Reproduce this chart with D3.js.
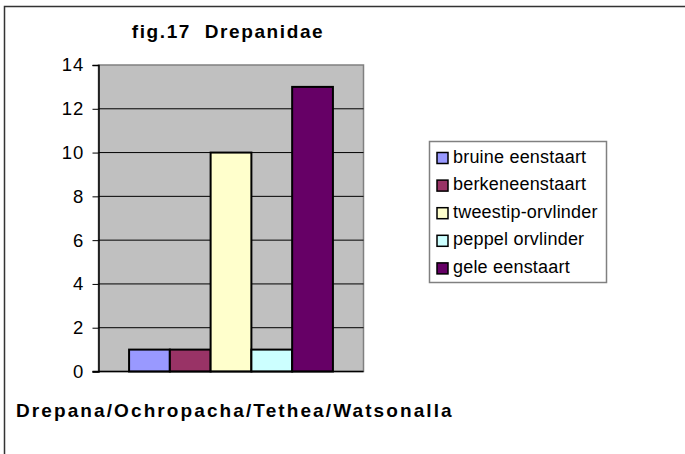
<!DOCTYPE html>
<html>
<head>
<meta charset="utf-8">
<script src="https://cdn.jsdelivr.net/npm/d3@7"></script>
<style>
  body { margin: 0; background: #fff; }
  svg { display: block; }
  text { font-family: "Liberation Sans", Arial, sans-serif; fill: #000; white-space: pre; }
  .tick text { font-size: 18.5px; letter-spacing: 0.8px; }
</style>
</head>
<body>
<div id="chart"></div>
<script>
// chart data
var title = "fig.17  Drepanidae";
var xTitle = "Drepana/Ochropacha/Tethea/Watsonalla";
var categories = [""]; // single category group
var species = ["bruine eenstaart", "berkeneenstaart", "tweestip-orvlinder", "peppel orvlinder", "gele eenstaart"];
var counts = [1, 1, 10, 1, 13];
var colors = ["#9999FF", "#993366", "#FFFFCC", "#CCFFFF", "#660066"];
var yTicks = [0, 2, 4, 6, 8, 10, 12, 14];

var W = 685, H = 454;
var plot = {left: 98.5, right: 363.5, top: 65, bottom: 371.5};

var svg = d3.select("#chart").append("svg")
  .attr("width", W).attr("height", H);

// outer frame (right/bottom edges run off the picture)
svg.append("rect")
  .attr("x", 4.5).attr("y", 6.5)
  .attr("width", W + 10).attr("height", H + 10)
  .attr("fill", "#fff").attr("stroke", "#333").attr("stroke-width", 1.5);

var y = d3.scaleLinear().domain([0, 14]).range([plot.bottom, plot.top]);
var x0 = d3.scaleBand().domain(categories).range([plot.left, plot.right]).paddingOuter(0.15);
var x1 = d3.scaleBand().domain(species).range([0, x0.bandwidth()]);

// plot area
svg.append("rect")
  .attr("x", plot.left).attr("y", plot.top)
  .attr("width", plot.right - plot.left).attr("height", plot.bottom - plot.top)
  .attr("fill", "#C0C0C0").attr("stroke", "#808080").attr("stroke-width", 1.5);

// gridlines
svg.append("g").selectAll("line")
  .data(yTicks.filter(function(d){ return d > 0 && d < 14; }))
  .enter().append("line")
  .attr("x1", plot.left).attr("x2", plot.right)
  .attr("y1", function(d){ return y(d); }).attr("y2", function(d){ return y(d); })
  .attr("stroke", "#000").attr("stroke-width", 1);

// bars
var group = svg.append("g")
  .attr("transform", "translate(" + x0("") + ",0)");
group.selectAll("rect")
  .data(counts)
  .enter().append("rect")
  .attr("x", function(d, i){ return x1(species[i]); })
  .attr("y", function(d){ return y(d); })
  .attr("width", x1.bandwidth())
  .attr("height", function(d){ return y(0) - y(d); })
  .attr("fill", function(d, i){ return colors[i]; })
  .attr("stroke", "#000").attr("stroke-width", 2);

// y axis
var yAxis = svg.append("g")
  .attr("transform", "translate(" + plot.left + ",0)")
  .call(d3.axisLeft(y).tickValues(yTicks).tickSize(6).tickPadding(8.5).tickFormat(d3.format("d")));
yAxis.select(".domain").attr("stroke", "#000").attr("stroke-width", 1.5);
yAxis.selectAll(".tick line").attr("stroke", "#000");
yAxis.selectAll(".tick text").attr("font-family", null).attr("font-size", null);

// x axis baseline
svg.append("line")
  .attr("x1", plot.left - 6).attr("x2", plot.right)
  .attr("y1", plot.bottom).attr("y2", plot.bottom)
  .attr("stroke", "#000").attr("stroke-width", 1.5);

// title
svg.append("text")
  .attr("x", 228).attr("y", 38)
  .attr("text-anchor", "middle")
  .style("font-size", "19px").style("font-weight", "bold")
  .style("letter-spacing", "1.6px")
  .text(title);

// x title
svg.append("text")
  .attr("x", 16).attr("y", 417)
  .style("font-size", "19px").style("font-weight", "bold")
  .style("letter-spacing", "2.1px")
  .text(xTitle);

// legend
var lg = {x: 429.5, y: 141.5, w: 177, h: 141, row: 27.6};
var legend = svg.append("g");
legend.append("rect")
  .attr("x", lg.x).attr("y", lg.y).attr("width", lg.w).attr("height", lg.h)
  .attr("fill", "#fff").attr("stroke", "#808080").attr("stroke-width", 1.5);
var items = legend.selectAll("g.item")
  .data(species)
  .enter().append("g")
  .attr("class", "item")
  .attr("transform", function(d, i){ return "translate(" + (lg.x + 7.5) + "," + (lg.y + 11 + i * lg.row) + ")"; });
items.append("rect")
  .attr("width", 11).attr("height", 11)
  .attr("fill", function(d, i){ return colors[i]; })
  .attr("stroke", "#000").attr("stroke-width", 1.5);
items.append("text")
  .attr("x", 16).attr("y", 10)
  .style("font-size", "18px").style("letter-spacing", "0.2px")
  .text(function(d){ return d; });
</script>
</body>
</html>
